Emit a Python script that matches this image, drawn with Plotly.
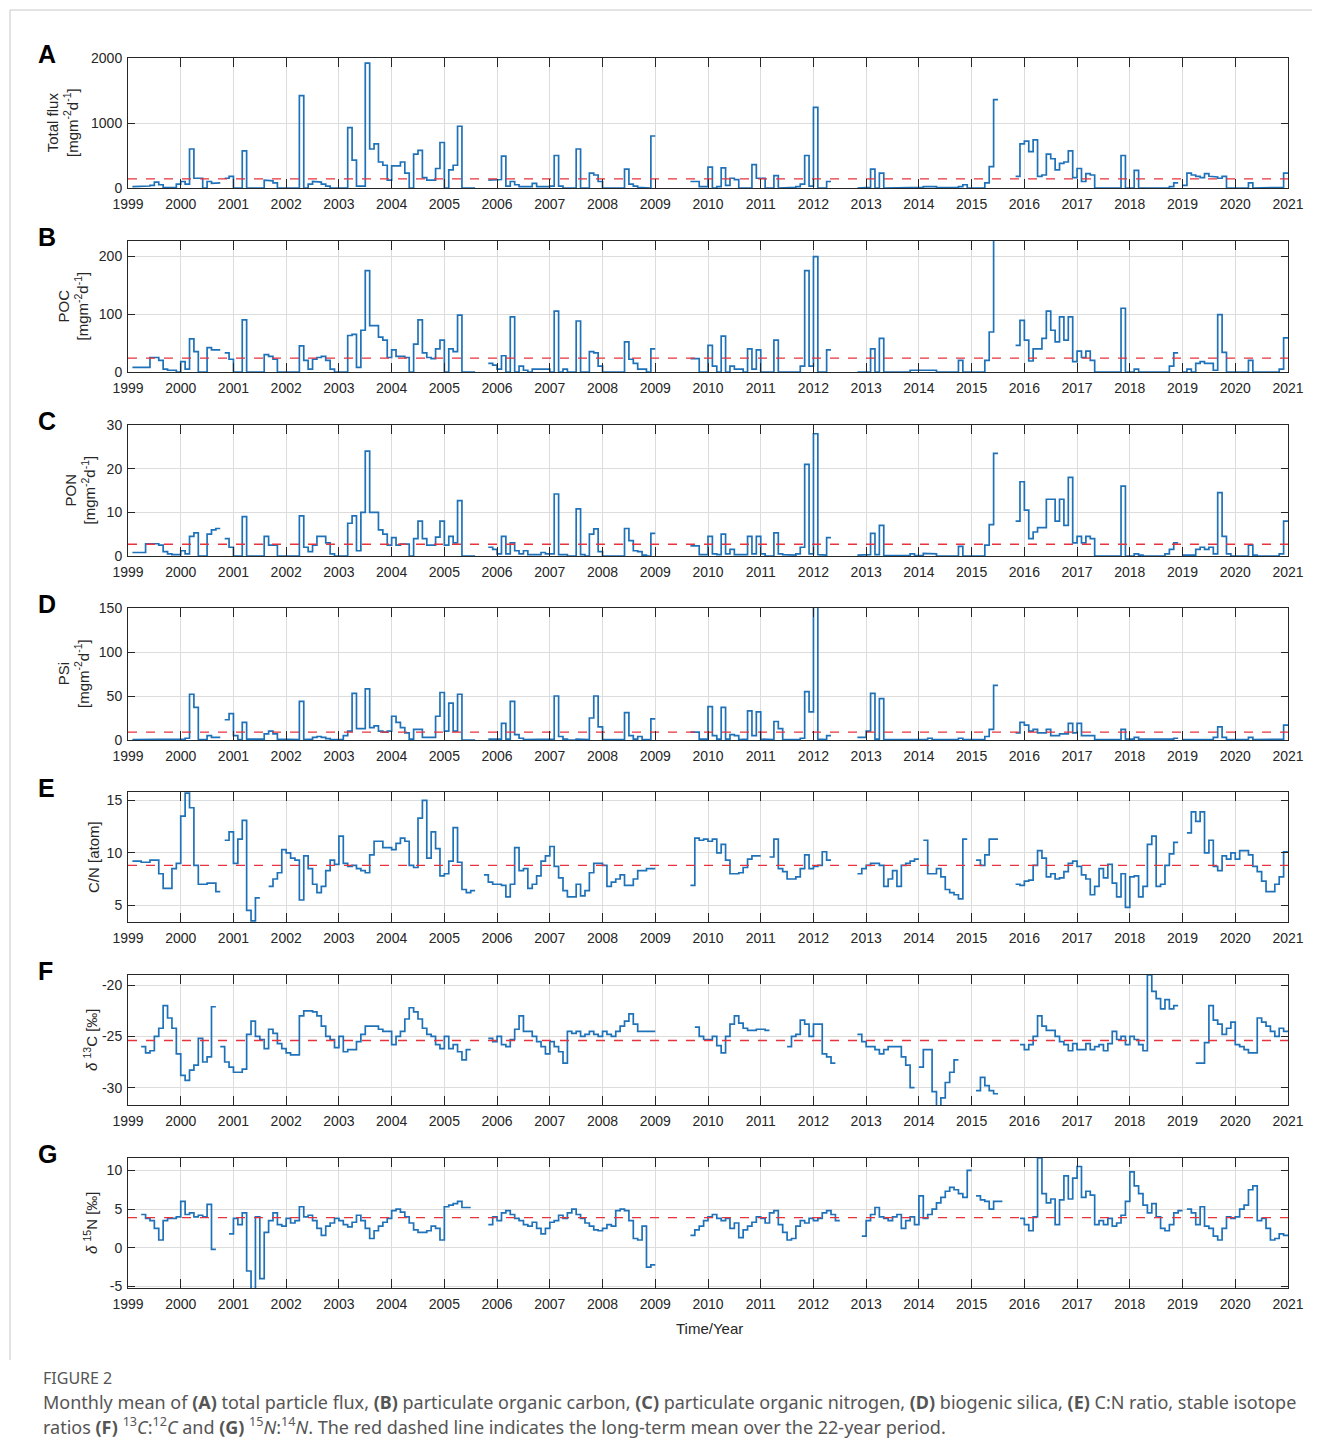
import plotly.graph_objects as go

N = None
YEARS = list(range(1999, 2022))

# ---------------- data (monthly means, Jan..Dec per row) ----------------
total_flux = [
    N, 20, 20, 30, 30, 40, 90, 50, 10, 5, 5, 60,            # 1999
    100, 60, 600, 150, 150, 0, 100, 70, 80, N, 150, 180,     # 2000
    0, 0, 570, 0, 0, 0, 0, 120, 110, 80, 0, 0,               # 2001
    0, 0, 0, 1420, 0, 60, 100, 90, 60, 30, 0, 0,             # 2002
    0, 0, 930, 430, 30, 30, 1920, 600, 680, 400, 350, 120,   # 2003
    340, 340, 400, 230, 0, 520, 580, 160, 120, 120, 300, 700,  # 2004
    0, 280, 350, 950, 0, 0, 0, N, N, N, 120, 130,            # 2005
    130, 490, 30, 100, 50, 20, 30, 20, 70, 20, 10, 20,       # 2006
    30, 500, 30, 0, 0, 0, 600, 0, 0, 230, 200, 100,          # 2007
    0, 0, 0, 0, 0, 290, 60, 30, 10, 0, 0, 800,               # 2008
    N, N, N, N, N, N, N, N, 100, 100, 20, 20,                # 2009
    320, 0, 20, 310, 40, 150, 130, 0, 10, 0, 360, 150,       # 2010
    150, 0, 0, 190, 0, 0, 0, 10, 20, 60, 500, 30,            # 2011
    1240, 0, 0, 100, N, N, N, N, N, N, 0, 10,                # 2012
    10, 290, 0, 230, 0, 0, 0, 0, 0, 10, 10, 10,              # 2013
    10, 20, 20, 20, 5, 5, 5, 5, 5, 20, 50, 0,                # 2014
    0, 0, 0, 80, 330, 1360, N, N, N, N, 180, 680,            # 2015
    720, 560, 740, 180, 200, 520, 450, 280, 380, 400, 570, 160,  # 2016
    300, 100, 220, 200, 0, 0, 0, 0, 0, 0, 500, 0,            # 2017
    0, 270, 0, 0, 0, 0, 0, 0, 0, 20, 80, N,                  # 2018
    40, 230, 200, 180, 160, 220, 180, 170, 150, 180, 0, 0,   # 2019
    0, 0, 0, 80, 0, 0, 0, 0, 0, 0, 10, 230,                  # 2020
]

poc = [
    N, 8, 8, 8, 8, 25, 25, 20, 5, 3, 3, 0,                   # 1999
    18, 5, 57, 35, 0, 0, 42, 38, 38, N, 33, 22,              # 2000
    0, 0, 90, 0, 0, 0, 0, 30, 27, 22, 0, 0,                  # 2001
    0, 0, 0, 45, 20, 5, 22, 25, 27, 20, 5, 0,                # 2002
    0, 0, 63, 65, 8, 72, 175, 80, 80, 60, 55, 25,            # 2003
    38, 27, 27, 25, 0, 48, 90, 33, 25, 23, 40, 55,           # 2004
    0, 40, 35, 98, 0, 0, 0, N, N, N, 15, 12,                 # 2005
    5, 28, 0, 95, 0, 10, 3, 0, 5, 5, 5, 5,                   # 2006
    0, 105, 0, 5, 0, 0, 88, 0, 0, 35, 33, 10,                # 2007
    0, 0, 0, 0, 0, 52, 22, 15, 5, 5, 0, 40,                  # 2008
    N, N, N, N, N, N, N, N, 23, 23, 0, 0,                    # 2009
    46, 10, 0, 62, 0, 10, 5, 5, 0, 40, 5, 38,                # 2010
    0, 0, 0, 55, 0, 0, 0, 0, 0, 10, 175, 10,                 # 2011
    199, 0, 0, 38, N, N, N, N, N, N, 0, 0,                   # 2012
    0, 40, 0, 58, 0, 0, 0, 0, 0, 0, 3, 3,                    # 2013
    3, 3, 3, 3, 0, 0, 0, 0, 0, 20, 0, 0,                     # 2014
    0, 0, 0, 20, 69, 235, N, N, N, N, 46, 89,                # 2015
    55, 19, 40, 40, 58, 105, 72, 52, 95, 55, 95, 18,         # 2016
    36, 25, 36, 20, 0, 0, 0, 0, 0, 0, 110, 0,                # 2017
    0, 5, 0, 0, 0, 0, 0, 0, 0, 10, 33, N,                    # 2018
    0, 5, 0, 15, 18, 15, 15, 3, 99, 34, 0, 0,                # 2019
    0, 0, 0, 20, 0, 0, 0, 0, 0, 0, 5, 59,                    # 2020
]

pon = [
    N, 0.8, 0.8, 0.8, 2.8, 2.8, 2.8, 2.5, 1.0, 0.5, 0.3, 0.3,    # 1999
    1.2, 0.5, 4.5, 5.3, 0, 0, 5.0, 6.0, 6.3, N, 4.0, 2.0,        # 2000
    0, 0, 9.0, 0, 0, 0, 0, 4.5, 2.5, 2.5, 0, 0,                  # 2001
    0, 0, 0, 9.2, 2.0, 1.0, 2.5, 4.5, 4.5, 3.0, 0.5, 0,          # 2002
    0, 0, 7.5, 9.2, 1.2, 10, 24, 10, 10, 6.0, 5.0, 2.5,          # 2003
    4.2, 2.5, 2.7, 2.7, 0, 4.0, 8.0, 4.0, 2.5, 2.5, 4.3, 8.0,    # 2004
    2.5, 4.5, 3.0, 12.7, 0, 0, 0, N, N, N, 2.0, 1.5,             # 2005
    0.5, 4.5, 0.5, 3.0, 1.2, 0.5, 1.2, 0.3, 0.2, 0.3, 0.8, 0.5,  # 2006
    0.5, 14.2, 0.3, 0.3, 0, 0, 10.8, 0.3, 0, 5.0, 6.2, 1.0,      # 2007
    0, 0, 0, 0, 0, 6.3, 3.5, 1.2, 1.0, 0.2, 0, 5.2,              # 2008
    N, N, N, N, N, N, N, N, 2.3, 2.3, 0.3, 0.3,                  # 2009
    4.5, 0.5, 0.3, 5.0, 0.5, 1.5, 0.3, 0.3, 0.3, 4.5, 0.5, 4.5,  # 2010
    0.5, 0, 0, 5.3, 0.5, 0.3, 0.3, 0.2, 0.5, 2.0, 21, 0.5,       # 2011
    28, 0.3, 0.2, 4.2, N, N, N, N, N, N, 0.2, 0.3,               # 2012
    0.3, 5.2, 0.3, 7.0, 0.1, 0.1, 0.1, 0.1, 0.1, 0.1, 0.5, 0.1,  # 2013
    0.1, 0.6, 0.5, 0.5, 0, 0, 0, 0, 0, 2.2, 0, 0,                # 2014
    0, 0, 0, 2.5, 7.2, 23.5, N, N, N, N, 8.0, 17,                # 2015
    10.5, 4.0, 5.5, 6.5, 6.5, 13, 13, 8.0, 13, 7.0, 18, 3.0,     # 2016
    4.5, 3.0, 4.5, 4.0, 0, 0, 0, 0, 0, 0, 16, 0,                 # 2017
    0, 0.5, 0.2, 0, 0, 0, 0, 0, 0.5, 1.5, 3.0, N,                # 2018
    0.2, 0.2, 0.2, 1.5, 2.0, 1.5, 2.0, 0.5, 14.5, 4.5, 0.5, 0,   # 2019
    0, 0, 0, 2.5, 0.2, 0, 0, 0, 0, 0, 0.5, 8.0,                  # 2020
]

psi = [
    N, 0.5, 0.5, 0.5, 0.5, 0.5, 0.5, 0.5, 0.5, 0.5, 0.5, 0.5,    # 1999
    1, 2, 52, 37, 0.5, 0.5, 5, 3, 3, N, 23, 30,                  # 2000
    5, 0.5, 20, 1, 0.5, 0.5, 1, 7, 10, 7, 1, 0.5,                # 2001
    0.5, 0.5, 0.5, 44, 0.5, 1, 3, 4, 3, 1.5, 0.5, 0.5,           # 2002
    0.5, 5, 10, 53, 13, 13, 58, 14, 16, 10, 9, 10,               # 2003
    27, 20, 14, 8, 1, 12, 12, 3, 3, 3, 27, 54,                   # 2004
    10, 42, 10, 52, 0, 0, 0, N, N, N, 1, 1,                      # 2005
    1, 19, 1, 44, 6, 2, 0.5, 0.5, 0.5, 0.5, 1, 1,                # 2006
    1, 50, 4, 1, 0, 0, 1, 0.5, 0.5, 25, 50, 15,                  # 2007
    0.5, 0.5, 0.5, 0.5, 0.5, 31, 5, 1, 4, 0.5, 0.5, 24,          # 2008
    N, N, N, N, N, N, N, N, 9, 9, 1, 1,                          # 2009
    38, 5, 1, 37, 1, 6, 5, 0.5, 1, 33, 5, 32,                    # 2010
    1, 0.5, 0.5, 21, 13, 0.5, 0.5, 0.5, 0.5, 2, 55, 32,          # 2011
    155, 1, 0.5, 5, N, N, N, N, N, N, 3, 3,                      # 2012
    10, 53, 1, 47, 0.5, 0.5, 0.5, 0.5, 0.5, 0.5, 1, 1,           # 2013
    1, 0.5, 2, 0.5, 0.5, 0.5, 0.5, 0.5, 0.5, 2, 0.5, 0.5,        # 2014
    0.5, 0.5, 0.5, 4, 12, 62, N, N, N, N, 8, 20,                 # 2015
    17, 10, 12, 8, 8, 12, 5, 5, 7, 7, 19, 8,                     # 2016
    19, 5, 5, 5, 0.5, 0.5, 0.5, 0.5, 0.5, 0.5, 12, 1,            # 2017
    1, 3, 1, 0.5, 0.5, 0.5, 0.5, 0.5, 0.5, 1, 2, N,              # 2018
    0.5, 0.5, 0.5, 0.5, 0.5, 0.5, 0.5, 3, 15, 3, 0.5, 0.5,       # 2019
    0.5, 0.5, 0.5, 3, 0.5, 0.5, 0.5, 0.5, 0.5, 0.5, 1, 17,       # 2020
]

cn_ratio = [
    N, 9.2, 9.2, 9.1, 9.1, 9.3, 9.3, 8.0, 6.6, 6.6, 8.5, 9.0,        # 1999
    13.5, 15.7, 14.3, 8.8, 7.0, 7.0, 7.1, 7.1, 6.3, N, 11.2, 12.0,   # 2000
    9.0, 11.3, 13.1, 4.5, 3.5, 5.7, N, N, 6.8, 7.5, 8.1, 10.3,       # 2001
    10.0, 9.5, 9.3, 5.5, 9.7, 8.5, 7.0, 6.2, 6.8, 8.3, 9.3, 8.9,     # 2002
    11.6, 9.0, 8.7, 8.8, 8.5, 8.3, 8.1, 9.8, 11.1, 11.1, 10.5, 10.5, # 2003
    10.3, 10.9, 11.4, 11.1, 8.8, 8.6, 13.3, 15.0, 9.5, 12.0, 10.4, 7.8,  # 2004
    8.0, 9.2, 12.4, 9.1, 6.5, 6.2, 6.4, N, N, 7.9, 7.2, 7.0,         # 2005
    7.0, 6.9, 5.8, 7.0, 10.5, 8.3, 8.5, 6.6, 7.0, 7.8, 9.2, 9.7,     # 2006
    10.6, 8.7, 7.6, 6.4, 5.8, 5.8, 7.0, 5.9, 6.4, 8.1, 9.0, 9.0,     # 2007
    8.8, 6.8, 7.2, 7.5, 7.9, 6.9, 6.9, 7.5, 8.3, 8.3, 8.5, 8.5,      # 2008
    N, N, N, N, N, N, N, N, 6.9, 11.4, 11.2, 11.3,                   # 2009
    11.1, 11.3, 10.0, 10.8, 9.3, 8.0, 8.0, 8.1, 8.6, 9.4, 9.7, 9.7,  # 2010
    N, N, 9.6, 11.3, 8.5, 8.2, 7.5, 7.5, 7.7, 8.5, 9.8, 8.5,         # 2011
    8.7, 8.8, 10.1, 9.3, N, N, N, N, N, N, 8.0, 8.5,                 # 2012
    8.8, 9.0, 9.0, 8.8, 6.8, 7.5, 8.3, 6.8, 8.8, 9.0, 9.2, 9.4,      # 2013
    N, 11.2, 8.0, 8.0, 8.5, 7.7, 6.5, 6.2, 6.0, 5.6, 11.3, N,        # 2014
    N, 9.3, 8.8, 9.8, 11.3, 11.3, N, N, N, N, 7.0, 6.9,              # 2015
    7.3, 7.4, 8.8, 10.2, 9.5, 7.7, 8.0, 7.5, 7.6, 8.2, 9.0, 9.2,     # 2016
    8.7, 7.9, 7.5, 6.0, 6.8, 8.5, 7.6, 8.9, 7.1, 5.8, 8.0, 4.8,      # 2017
    7.7, 7.8, 5.8, 6.8, 10.8, 11.6, 6.8, 7.0, 8.8, 9.9, 11.0, N,     # 2018
    N, 11.9, 13.9, 13.0, 13.9, 10.0, 11.2, 8.7, 8.3, 9.7, 9.4, 10.0, # 2019
    9.4, 10.2, 10.2, 9.8, 8.7, 8.2, 7.3, 6.3, 6.3, 7.0, 7.7, 10.1,   # 2020
]

d13c = [
    N, N, N, -26.0, -26.6, -26.4, -25.0, -24.2, -22.0, -23.2, -24.2, -26.7,      # 1999
    -28.8, -29.3, -28.3, -27.8, -25.2, -27.5, -27.0, -22.1, N, -26.0, -27.5, -28.0,  # 2000
    -28.5, -28.5, -28.2, -24.8, -23.5, -25.0, -25.3, -26.2, -24.3, -24.7, -25.7, -26.2,  # 2001
    -26.6, -26.8, -26.8, -23.0, -22.5, -22.5, -22.6, -23.0, -24.0, -25.0, -25.3, -26.1,  # 2002
    -25.0, -26.5, -26.3, -26.3, -25.5, -24.8, -24.0, -24.0, -24.0, -24.3, -24.5, -24.5,  # 2003
    -25.8, -25.0, -24.5, -23.3, -22.2, -22.6, -23.3, -24.2, -24.8, -25.0, -25.8, -26.2,  # 2004
    -25.0, -26.2, -25.8, -26.5, -27.3, -26.3, N, N, N, N, -25.2, -25.5,          # 2005
    -25.0, -25.8, -26.0, -25.3, -24.3, -23.0, -24.5, -24.5, -25.0, -25.5, -26.0, -26.7,  # 2006
    -25.5, -26.0, -26.5, -27.6, -24.5, -24.7, -24.5, -25.0, -24.8, -24.5, -24.8, -25.0,  # 2007
    -24.5, -24.8, -25.0, -24.5, -24.0, -23.5, -22.8, -23.8, -24.5, -24.5, -24.5, -24.5,  # 2008
    N, N, N, N, N, N, N, N, N, -24.1, -25.0, -25.3,                               # 2009
    -25.3, -25.0, -25.9, -26.6, -25.0, -23.8, -23.0, -23.7, -24.2, -24.4, -24.4, -24.3,  # 2010
    -24.3, -24.4, N, N, N, N, -26.0, -25.0, -24.8, -23.4, -23.8, -25.0,          # 2011
    -23.8, -23.8, -26.7, -27.0, -27.6, N, N, N, N, N, -24.8, -25.5,              # 2012
    -26.0, -26.0, -26.3, -26.7, -26.3, -26.0, -26.0, -26.0, -27.0, -27.8, -30.0, N,  # 2013
    -28.0, -26.3, -26.3, -30.4, -31.8, -31.0, -29.5, -28.5, -27.3, N, N, N,      # 2014
    N, -30.3, -29.0, -29.8, -30.3, -30.6, N, N, N, N, N, -25.8,                  # 2015
    -26.3, -25.8, -25.0, -23.0, -24.0, -24.4, -24.4, -25.0, -25.5, -25.8, -26.4, -25.7,  # 2016
    -26.3, -26.3, -25.7, -26.3, -26.0, -25.8, -26.4, -25.7, -24.5, -25.3, -25.0, -25.8,  # 2017
    -25.0, -25.3, -25.8, -26.4, -19.0, -20.6, -21.3, -22.3, -21.4, -22.3, -22.0, N,  # 2018
    N, N, N, -27.6, -27.6, -25.6, -22.0, -23.4, -23.8, -24.8, -24.2, -23.6,      # 2019
    -25.8, -26.0, -26.3, -26.6, -26.6, -23.2, -23.6, -24.0, -24.5, -25.0, -24.2, -24.5,  # 2020
]

d15n = [
    N, N, N, 4.3, 3.8, 3.5, 2.5, 1.0, 3.5, 3.8, 3.8, 4.0,        # 1999
    6.0, 4.3, 4.5, 4.0, 4.2, 4.0, 5.6, -0.2, N, N, N, 1.8,        # 2000
    3.8, 3.0, 4.5, -3.0, -5.5, 4.0, -4.0, 2.0, 3.5, 4.5, 3.0, 2.8,  # 2001
    3.8, 3.2, 3.5, 5.3, 4.0, 4.2, 3.5, 2.5, 1.6, 2.8, 3.2, 3.8,   # 2002
    3.5, 3.0, 2.7, 3.3, 4.2, 3.5, 2.5, 1.2, 2.2, 2.8, 3.3, 3.8,   # 2003
    4.8, 5.0, 4.6, 4.0, 3.2, 2.3, 2.0, 2.0, 2.2, 2.8, 2.5, 1.0,   # 2004
    5.3, 5.5, 5.7, 6.0, 5.2, 5.2, N, N, N, N, 3.0, 4.0,           # 2005
    3.5, 4.5, 4.8, 4.3, 3.8, 3.5, 3.0, 2.8, 3.3, 2.5, 1.8, 2.5,   # 2006
    3.3, 3.5, 4.2, 3.8, 4.5, 5.0, 4.3, 3.8, 3.2, 2.8, 2.3, 2.2,   # 2007
    2.5, 3.0, 2.8, 4.8, 5.0, 4.8, 3.5, 1.2, 1.0, 2.8, -2.5, -2.2, # 2008
    N, N, N, N, N, N, N, N, 1.6, 2.3, 2.8, 3.5,                   # 2009
    4.0, 4.3, 3.8, 3.5, 3.8, 2.5, 3.2, 1.3, 2.3, 2.8, 3.3, 4.0,   # 2010
    3.8, 3.2, 4.5, 4.8, 3.0, 2.0, 1.0, 1.2, 2.8, 3.5, 3.2, 3.8,   # 2011
    3.5, 3.8, 4.5, 4.8, 4.3, 3.5, N, N, N, N, N, 1.5,             # 2012
    3.5, 4.3, 5.2, 4.0, 3.8, 3.5, 4.0, 4.3, 2.5, 3.5, 4.0, 3.0,   # 2013
    6.7, 3.8, 4.3, 5.0, 5.8, 6.5, 7.3, 7.8, 7.5, 7.0, 6.5, 10.0,  # 2014
    N, 6.7, 6.2, 6.0, 5.0, 6.0, 6.0, N, N, N, N, 3.8,             # 2015
    3.0, 2.2, 4.0, 11.6, 7.0, 5.8, 6.3, 3.0, 6.2, 9.3, 6.3, 9.0,  # 2016
    10.5, 6.5, 7.3, 6.8, 3.0, 3.5, 3.0, 3.8, 2.8, 3.2, 4.2, 6.0,  # 2017
    9.8, 8.0, 7.0, 5.5, 4.5, 5.7, 4.0, 2.5, 2.2, 3.0, 4.5, 4.8,   # 2018
    N, 5.0, 4.5, 3.0, 5.3, 2.8, 2.5, 1.5, 1.0, 2.5, 4.0, 3.8,     # 2019
    4.0, 5.0, 5.5, 7.5, 8.0, 3.5, 3.8, 2.5, 1.0, 1.2, 1.8, 1.6,   # 2020
]

long_term_means = [140, 24, 2.7, 9.0, 8.8, -25.4, 3.9]
panel_letters = ["A", "B", "C", "D", "E", "F", "G"]
y_titles = [
    "Total flux<br>[mgm<sup>-2</sup>d<sup>-1</sup>]",
    "POC<br>[mgm<sup>-2</sup>d<sup>-1</sup>]",
    "PON<br>[mgm<sup>-2</sup>d<sup>-1</sup>]",
    "PSi<br>[mgm<sup>-2</sup>d<sup>-1</sup>]",
    "C/N [atom]",
    "<i>δ</i> <sup>13</sup>C [‰]",
    "<i>δ</i> <sup>15</sup>N [‰]",
]
y_tickvals = [[0, 1000, 2000], [0, 100, 200], [0, 10, 20, 30], [0, 50, 100, 150],
              [5, 10, 15], [-30, -25, -20], [-5, 0, 5, 10]]
series = [total_flux, poc, pon, psi, cn_ratio, d13c, d15n]

# ---------------- layout geometry (target pixels in the 1320x1456 screenshot) ----------------
BODY = 8                     # default page margin of the html body
W, H = 1320 - BODY, 1456 - BODY
X_LEFT, X_RIGHT = 128, 1288
panel_px = [(58, 188), (241, 372), (425, 556), (608, 740), (792, 922), (975, 1105), (1158, 1288)]
y_ranges = [[0, 2000], [0, 226], [0, 30], [0, 150], [3.4, 15.8], [-31.7, -19.0], [-5.2, 11.6]]
title_x = [62, 73, 80, 73, 93, 90, 90]


def px(x):
    return (x - BODY) / W


def py(y):
    return 1 - (y - BODY) / H


def stairs(vals, start=1999.0):
    xs, ys = [], []
    open_seg = False
    for i, v in enumerate(vals):
        x0, x1 = start + i / 12, start + (i + 1) / 12
        if v is None:
            if open_seg:
                xs.append(None)
                ys.append(None)
            open_seg = False
            continue
        xs += [x0, x1]
        ys += [v, v]
        open_seg = True
    return xs, ys


FONT = "Liberation Sans, Arial, Helvetica, sans-serif"
AXCOL = "#262626"
fig = go.Figure()
annotations = []
layout = dict(width=W, height=H, margin=dict(l=0, r=0, t=0, b=0, pad=0), autosize=False,
              paper_bgcolor="white", plot_bgcolor="white", showlegend=False,
              font=dict(family=FONT, color=AXCOL, size=14))

for k in range(7):
    sfx = "" if k == 0 else str(k + 1)
    xs, ys = stairs(series[k])
    fig.add_trace(go.Scatter(x=xs, y=ys, mode="lines", line=dict(color="#1f72b8", width=1.7),
                             xaxis="x" + sfx, yaxis="y" + sfx, hoverinfo="skip", connectgaps=False))
    m = long_term_means[k]
    fig.add_trace(go.Scatter(x=[1999, 2021], y=[m, m], mode="lines",
                             line=dict(color="#e8323c", width=1.4, dash="dash"),
                             xaxis="x" + sfx, yaxis="y" + sfx, hoverinfo="skip"))
    top, bot = panel_px[k]
    common = dict(showline=True, linecolor=AXCOL, linewidth=1, mirror="ticks", ticks="inside",
                  tickcolor=AXCOL, showgrid=True, gridcolor="#dcdcdc", gridwidth=1,
                  zeroline=False, automargin=False,
                  tickfont=dict(size=14, color=AXCOL, family=FONT))
    layout["xaxis" + sfx] = dict(common, domain=[px(X_LEFT), px(X_RIGHT)], range=[1999, 2021],
                                 tickvals=YEARS, ticktext=[str(y) for y in YEARS],
                                 ticklen=9, anchor="y" + sfx, ticklabelstandoff=3)
    layout["yaxis" + sfx] = dict(common, domain=[py(bot), py(top)], range=y_ranges[k],
                                 tickvals=y_tickvals[k],
                                 ticktext=[str(v) for v in y_tickvals[k]],
                                 ticklen=7, anchor="x" + sfx, ticklabelstandoff=2)
    annotations.append(dict(text=y_titles[k], x=px(title_x[k]), y=py((top + bot) / 2),
                            xref="paper", yref="paper", xanchor="center", yanchor="middle",
                            textangle=-90, showarrow=False, font=dict(size=15, color=AXCOL)))
    annotations.append(dict(text="<b>" + panel_letters[k] + "</b>", x=px(36), y=py(top - 4),
                            xref="paper", yref="paper", xanchor="left", yanchor="middle",
                            showarrow=False, font=dict(size=25, color="black")))

annotations.append(dict(text="Time/Year", x=px(709), y=py(1328), xref="paper", yref="paper",
                        xanchor="center", yanchor="middle", showarrow=False,
                        font=dict(size=15, color=AXCOL)))

CAP_FONT = "Noto Sans, Open Sans, sans-serif"
annotations.append(dict(text="FIGURE 2", x=px(41), y=py(1378), xref="paper", yref="paper",
                        xanchor="left", yanchor="middle", showarrow=False,
                        font=dict(size=16, color="#555555", family=CAP_FONT)))
cap1 = ("Monthly mean of <b>(A)</b> total particle flux, <b>(B)</b> particulate organic carbon, "
        "<b>(C)</b> particulate organic nitrogen, <b>(D)</b> biogenic silica, <b>(E)</b> C:N ratio, "
        "stable isotope")
cap2 = ("ratios <b>(F)</b> <sup>13</sup><i>C</i>:<sup>12</sup><i>C</i> and <b>(G)</b> "
        "<sup>15</sup><i>N</i>:<sup>14</sup><i>N</i>. The red dashed line indicates the long-term "
        "mean over the 22-year period.")
for txt, yy in [(cap1, 1402), (cap2, 1426)]:
    annotations.append(dict(text=txt, x=px(41), y=py(yy), xref="paper", yref="paper",
                            xanchor="left", yanchor="middle", showarrow=False,
                            font=dict(size=18, color="#555555", family=CAP_FONT)))

layout["annotations"] = annotations
layout["shapes"] = [
    dict(type="line", xref="paper", yref="paper", x0=px(10), x1=1, y0=py(10), y1=py(10),
         line=dict(color="#c8c8c8", width=1)),
    dict(type="line", xref="paper", yref="paper", x0=px(10), x1=px(10), y0=py(10), y1=py(1360),
         line=dict(color="#c8c8c8", width=1)),
]
fig.update_layout(**layout)
fig.write_html("out.html")
